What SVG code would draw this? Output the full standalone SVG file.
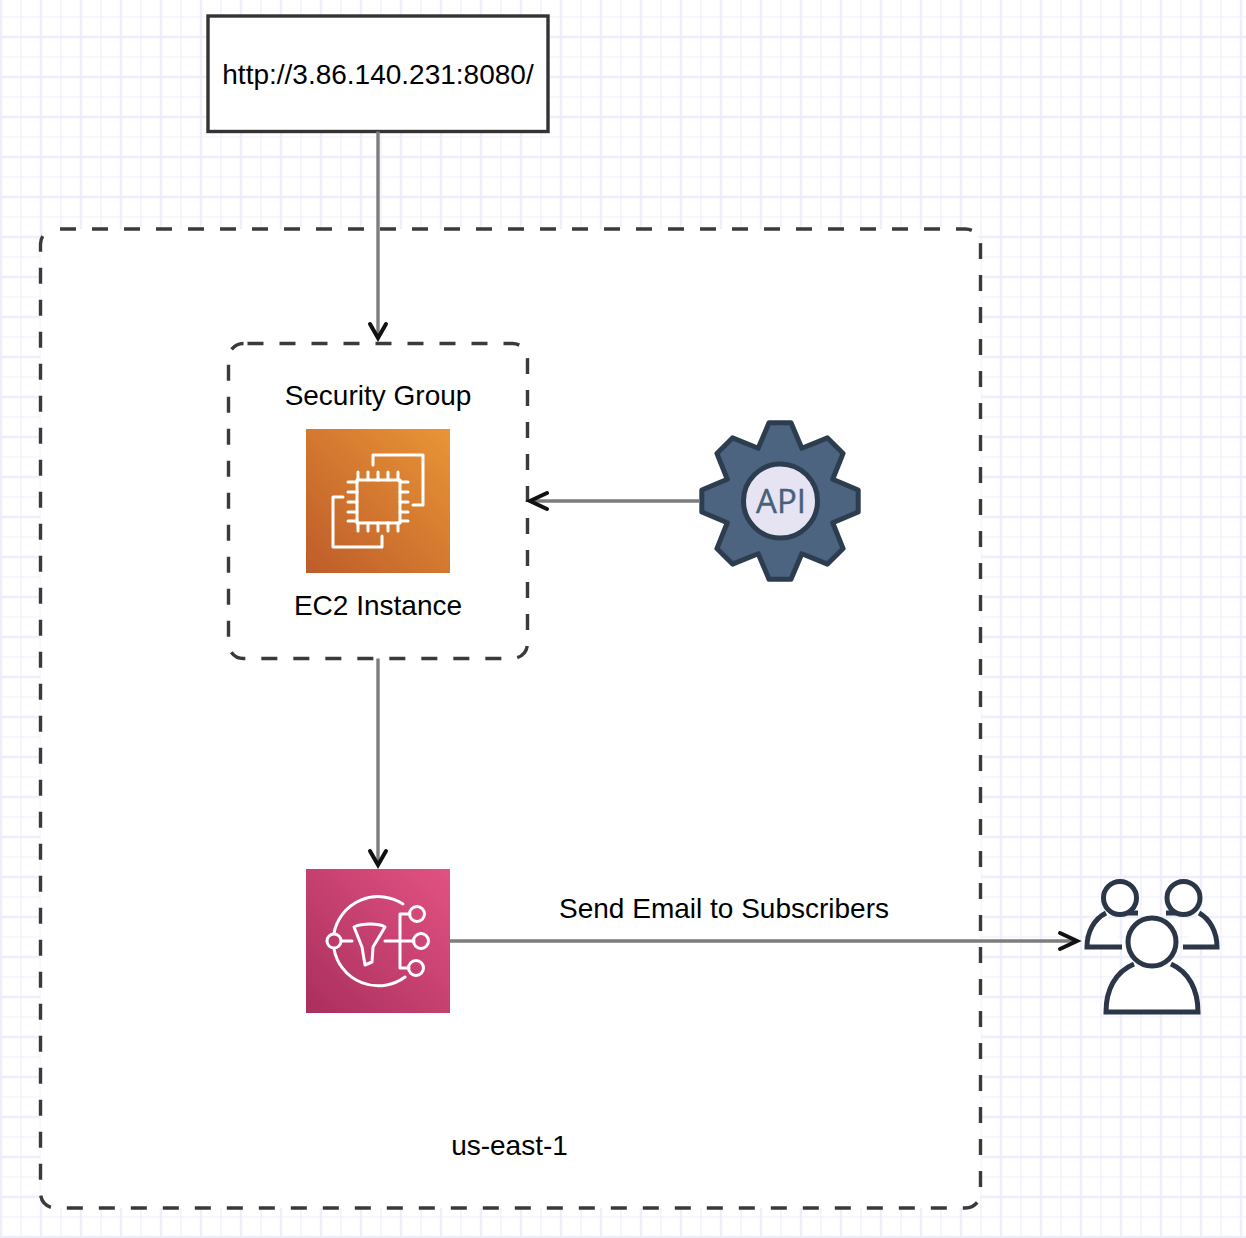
<svg xmlns="http://www.w3.org/2000/svg" width="1246" height="1238" viewBox="0 0 1246 1238">
<style>
.t{font-family:"Liberation Sans",Arial,sans-serif;fill:#000;text-anchor:middle;font-size:28px}
.dash{fill:#fff;stroke:#3a3a3a;stroke-width:3.4;stroke-dasharray:16 16;stroke-linecap:butt}
.conn{fill:none;stroke:#7d7d7d;stroke-width:3.4}
.head{fill:none;stroke:#111;stroke-width:4;stroke-linecap:round;stroke-linejoin:miter}
.ic{fill:none;stroke:#fff;stroke-width:3;stroke-linecap:round;stroke-linejoin:round}
.u{fill:#fff;stroke:#2b3648;stroke-width:5}
</style>
<defs>
<pattern id="grid" x="1" y="-3" width="40" height="40" patternUnits="userSpaceOnUse">
<path d="M0 20H40M20 0V40" stroke="#f3f3fe" stroke-width="1.6" fill="none"/>
<path d="M0 0H40M0 40H40M0 0V40M40 0V40" stroke="#eeeefd" stroke-width="2.4" fill="none"/>
</pattern>
<linearGradient id="ec2" x1="0" y1="1" x2="1" y2="0"><stop offset="0" stop-color="#bd5c2a"/><stop offset="1" stop-color="#e99536"/></linearGradient>
<linearGradient id="sns" x1="0" y1="1" x2="1" y2="0"><stop offset="0" stop-color="#a92f5d"/><stop offset="1" stop-color="#e25282"/></linearGradient>
</defs>
<rect width="1246" height="1238" fill="#fff"/>
<rect width="1246" height="1238" fill="url(#grid)"/>
<g id="region"><rect class="dash" x="40.500" y="229" width="940" height="979" rx="15" stroke-dashoffset="27.500"/><text class="t" x="509.500" y="1155">us-east-1</text></g>
<g id="url-box"><rect x="208" y="16" width="340" height="115.500" fill="#fff" stroke="#333" stroke-width="3.400"/><text class="t" x="378" y="84">http://3.86.140.231:8080/</text></g>
<g id="security-group"><rect class="dash" x="228.500" y="343.500" width="299" height="315" rx="15" stroke-dashoffset="28"/><text class="t" x="378" y="405">Security Group</text></g>
<g id="ec2-instance"><rect x="306" y="429" width="144" height="144" fill="url(#ec2)"/>
<g class="ic"><path d="M373 465V455H423V505H413"/><path d="M343 497H333V547H382V536"/><rect x="357" y="480" width="43" height="43"/><path d="M358 472V480M368 472V480M378 472V480M388 472V480M398 472V480M358 523V531M368 523V531M378 523V531M388 523V531M398 523V531M348 482H357M348 492H357M348 502H357M348 512H357M348 521H357M400 482H408M400 492H408M400 502H408M400 512H408M400 521H408"/></g>
<text class="t" x="378" y="615">EC2 Instance</text></g>
<g id="api"><path d="M769 422.800H791L801.800 448.300L827.500 437.900L843.100 453.400L832.700 479.200L858.200 490V512L832.700 522.800L843.100 548.600L827.500 564.100L801.800 553.700L791 579.200H769L758.200 553.700L732.500 564.100L716.900 548.600L727.300 522.800L701.800 512V490L727.300 479.200L716.900 453.400L732.500 437.900L758.200 448.300Z" fill="#4c6480" stroke="#2d3d50" stroke-width="5" stroke-linejoin="round"/><circle cx="780.500" cy="501" r="37" fill="#e6e4f2" stroke="#2d3d50" stroke-width="5"/><text x="781" y="513" font-family="'Open Sans',sans-serif" font-size="33" fill="#4a5f78" stroke="#4a5f78" stroke-width=".4" text-anchor="middle">API</text></g>
<g id="sns"><rect x="306" y="869" width="144" height="144" fill="url(#sns)"/>
<g class="ic"><path d="M403 904A45 45 0 0 0 334 933M334 949A45 45 0 0 0 405 977"/><circle cx="334" cy="941" r="7"/><path d="M342 941H352M385 941H414M400 914V968M400 914H410M400 968H409"/><circle cx="417" cy="914" r="7.500"/><circle cx="421" cy="941" r="7.500"/><circle cx="416" cy="968" r="7.500"/><path d="M354 927C362 923 379 923 385 927L373 947L372 962L365 965L362 947Z"/></g></g>
<g id="users"><path class="u" d="M1106 913C1094 919 1087 932 1087 947H1122M1199 913C1210 919 1217 932 1217 947H1183"/><path d="M1128 913H1138M1166 913H1176" fill="none" stroke="#2b3648" stroke-width="5"/><circle class="u" cx="1120" cy="898" r="16.500"/><circle class="u" cx="1183.500" cy="898" r="16.500"/><path class="u" d="M1134 964C1115 972 1106 990 1106 1012H1198C1198 990 1189 972 1171 964"/><circle class="u" cx="1152" cy="942" r="24"/></g>
<g id="connectors">
<path class="conn" d="M378 131.500V336"/><path class="head" d="M370 324L378 338L386 324"/>
<path class="conn" d="M700 501H533"/><path class="head" d="M547 493L530 501L547 509"/>
<path class="conn" d="M378 658.500V863"/><path class="head" d="M370 851L378 865L386 851"/>
<path class="conn" d="M450 941H1074"/><path class="head" d="M1060 933L1077 941L1060 949"/>
<text class="t" x="724" y="918">Send Email to Subscribers</text>
</g>
</svg>
